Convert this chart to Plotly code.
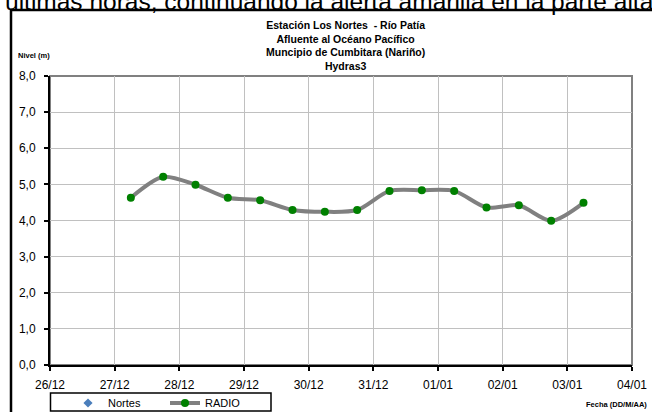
import plotly.graph_objects as go

# Water level readings (m), every 12 hours
times = [
    "2010-12-27 06:00", "2010-12-27 18:00", "2010-12-28 06:00", "2010-12-28 18:00",
    "2010-12-29 06:00", "2010-12-29 18:00", "2010-12-30 06:00", "2010-12-30 18:00",
    "2010-12-31 06:00", "2010-12-31 18:00", "2011-01-01 06:00", "2011-01-01 18:00",
    "2011-01-02 06:00", "2011-01-02 18:00", "2011-01-03 06:00",
]
radio = [4.63, 5.21, 4.99, 4.63, 4.56, 4.29, 4.24, 4.29,
         4.82, 4.84, 4.82, 4.36, 4.42, 3.99, 4.49]

# Automatic station series (no readings in this period)
nortes_times = ["2010-12-27 06:00"]
nortes = [None]

title_lines = [
    "Estación Los Nortes  - Río Patía",
    "Afluente al Océano Pacífico",
    "Muncipio de Cumbitara (Nariño)",
    "Hydras3",
]
header_text = "últimas horas, continuando la alerta amarilla en la parte alta"

W, H = 652, 412
L, R, T, B = 50, 632, 76, 365  # plot area in pixels


def px(x):
    return (x - L) / (R - L)


def py(y):
    return (B - y) / (B - T)


FONT = "Arial, Liberation Sans, sans-serif"

fig = go.Figure()
fig.add_trace(go.Scatter(
    x=nortes_times, y=nortes, name="Nortes", mode="markers",
    marker=dict(symbol="diamond", color="#4a7ebb", size=7),
))
fig.add_trace(go.Scatter(
    x=times, y=radio, name="RADIO", mode="lines+markers",
    line=dict(color="#808080", width=4, shape="spline", smoothing=0.8),
    marker=dict(color="#008000", size=8),
))

# Plot area frame (top/right grey), outer chart border and legend box
shapes = [
    dict(type="rect", xref="paper", yref="paper", x0=0, x1=1, y0=0, y1=1,
         line=dict(color="#808080", width=2), layer="below"),
    dict(type="line", xref="paper", yref="paper", x0=px(11), x1=px(W + 5),
         y0=py(10), y1=py(10), line=dict(color="black", width=2.5)),
    dict(type="line", xref="paper", yref="paper", x0=px(11), x1=px(11),
         y0=py(10), y1=py(H + 5), line=dict(color="black", width=2.5)),
    dict(type="rect", xref="paper", yref="paper", x0=px(50.5), x1=px(271),
         y0=py(393), y1=py(411), line=dict(color="black", width=1.5)),
]

annotations = [
    dict(text="<b>" + "<br>".join(title_lines) + "</b>", xref="paper", yref="paper",
         x=px(345), y=py(17), xanchor="center", yanchor="top", showarrow=False,
         font=dict(family=FONT, size=10.5, color="black"), align="center"),
    dict(text="<b>Nivel (m)</b>", xref="paper", yref="paper",
         x=px(16), y=py(55), xanchor="left", yanchor="middle", showarrow=False,
         font=dict(family=FONT, size=7.5, color="black")),
    dict(text="<b>Fecha (DD/M/AA)</b>", xref="paper", yref="paper",
         x=px(649), y=py(404), xanchor="right", yanchor="middle", showarrow=False,
         font=dict(family=FONT, size=7.5, color="black")),
    dict(text=header_text, xref="paper", yref="paper",
         x=px(3), y=py(1), xanchor="left", yanchor="middle", showarrow=False,
         font=dict(family=FONT, size=24.5, color="black")),
]

fig.update_layout(
    width=W, height=H,
    margin=dict(l=L, r=W - R, t=T, b=H - B, pad=0, autoexpand=False),
    paper_bgcolor="white", plot_bgcolor="white",
    separators=",.",
    font=dict(family=FONT, size=12, color="black"),
    showlegend=True,
    legend=dict(
        orientation="h", x=px(68), y=py(388.5), xanchor="left", yanchor="top",
        borderwidth=0, bgcolor="rgba(0,0,0,0)",
        font=dict(family=FONT, size=11, color="black"),
        entrywidth=52, tracegroupgap=0,
    ),
    shapes=shapes,
    annotations=annotations,
)

fig.update_xaxes(
    type="date", range=["2010-12-26", "2011-01-04"],
    dtick=86400000, tick0="2010-12-26", tickformat="%d/%m",
    showgrid=True, gridcolor="#c0c0c0", gridwidth=1,
    showline=True, linecolor="black", linewidth=2,
    ticks="outside", ticklen=4, tickcolor="black", tickwidth=1.5,
    ticklabelstandoff=4, zeroline=False,
    tickfont=dict(family=FONT, size=12, color="black"),
)
fig.update_yaxes(
    range=[0, 8], dtick=1, tickformat=".1f",
    showgrid=True, gridcolor="#c0c0c0", gridwidth=1,
    showline=True, linecolor="black", linewidth=2,
    ticks="outside", ticklen=4, tickcolor="black", tickwidth=1.5,
    ticklabelstandoff=6, zeroline=False,
    tickfont=dict(family=FONT, size=12, color="black"),
)

fig.write_html("out.html")
